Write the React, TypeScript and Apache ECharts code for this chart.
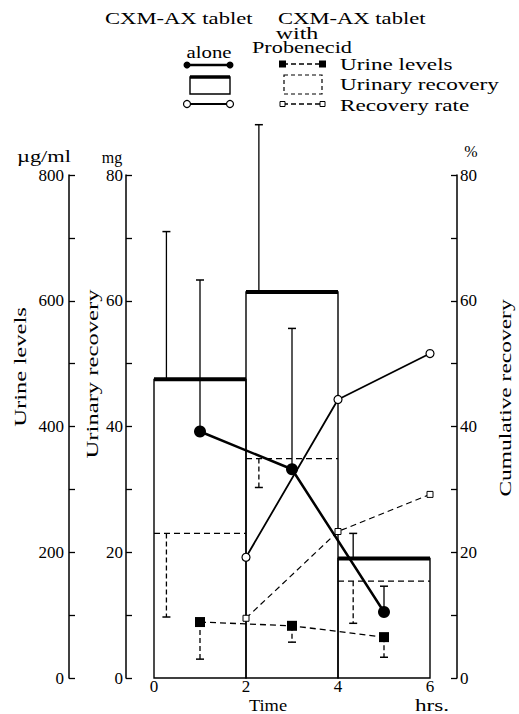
import React, { useEffect, useRef } from "react";
import * as echarts from "echarts";

// ---- data ----
const binStarts = [0, 2, 4];
const binEnds = [2, 4, 6];
const aloneRecovery = [47.5, 61.4, 19.0]; // mg, CXM-AX alone
const probRecovery = [23.0, 34.9, 15.4]; // mg, with Probenecid
const recoveryErrX = [0.27, 2.28, 4.33];
const aloneRecoveryErrTop = [71, 88, 23];
const probRecoveryErrBottom = [9.7, 30.3, 8.7];

const sampleTimes = [1, 3, 5];
const aloneUrine = [392, 332, 105]; // µg/ml
const aloneUrineErrTop = [633, 556, 146];
const probUrine = [89, 83, 65];
const probUrineErrBottom = [30, 57, 33];

const rateTimes = [2, 4, 6];
const aloneRate = [19.2, 44.3, 51.6]; // %
const probRate = [9.5, 23.3, 29.2];

const xTicks = [0, 2, 4, 6];

const FONT = "Liberation Serif";

export default function App() {
  const ref = useRef<HTMLDivElement>(null);
  useEffect(() => {
    if (!ref.current) return;
    const chart = echarts.init(ref.current, null, { renderer: "svg" });

    const binsAlone = binStarts.map((s, i) => [s, binEnds[i], aloneRecovery[i]]);
    const binsProb = binStarts.map((s, i) => [s, binEnds[i], probRecovery[i]]);
    const errAloneRec = recoveryErrX.map((x, i) => [x, aloneRecovery[i], aloneRecoveryErrTop[i]]);
    const errProbRec = recoveryErrX.map((x, i) => [x, probRecovery[i], probRecoveryErrBottom[i]]);
    const errAloneUr = sampleTimes.map((x, i) => [x, aloneUrine[i], aloneUrineErrTop[i]]);
    const errProbUr = sampleTimes.map((x, i) => [x, probUrine[i], probUrineErrBottom[i]]);

    const binRender = (dashed: boolean) => (params: any, api: any) => {
      const x0 = api.value(0), x1 = api.value(1), v = api.value(2);
      const p0 = api.coord([x0, 0]);
      const p1 = api.coord([x1, v]);
      if (dashed) {
        return {
          type: "line",
          shape: { x1: p0[0], y1: p1[1], x2: p1[0], y2: p1[1] },
          style: { stroke: "#000", lineWidth: 1.3, lineDash: [6, 4], fill: null },
        };
      }
      return {
        type: "group",
        children: [
          {
            type: "rect",
            shape: { x: p0[0], y: p1[1], width: p1[0] - p0[0], height: p0[1] - p1[1] },
            style: { fill: null, stroke: "#000", lineWidth: 1.4 },
          },
          {
            type: "line",
            shape: { x1: p0[0], y1: p1[1], x2: p1[0], y2: p1[1] },
            style: { stroke: "#000", lineWidth: 4 },
          },
        ],
      };
    };

    const errRender = (dashed: boolean) => (params: any, api: any) => {
      const x = api.value(0), a = api.value(1), b = api.value(2);
      const pa = api.coord([x, a]);
      const pb = api.coord([x, b]);
      const st: any = { stroke: "#000", lineWidth: 1.3 };
      if (dashed) st.lineDash = [5, 3];
      return {
        type: "group",
        children: [
          { type: "line", shape: { x1: pa[0], y1: pa[1], x2: pb[0], y2: pb[1] }, style: st },
          {
            type: "line",
            shape: { x1: pb[0] - 4, y1: pb[1], x2: pb[0] + 4, y2: pb[1] },
            style: { stroke: "#000", lineWidth: 1.5 },
          },
        ],
      };
    };

    const yBase = {
      type: "value",
      axisLine: { show: true, onZero: false, lineStyle: { color: "#000", width: 1.5 } },
      axisTick: { show: true, inside: true, length: 6, lineStyle: { color: "#000", width: 1.3 } },
      minorTick: { show: true, splitNumber: 2, length: 6, lineStyle: { color: "#000", width: 1.3 } },
      splitLine: { show: false },
      axisLabel: { color: "#000", fontFamily: FONT, fontSize: 17 },
    };

    const txt = (text: string, x: number, y: number, opts: any = {}) => ({
      type: "text",
      x,
      y,
      scaleX: opts.scaleX ?? 1,
      rotation: opts.rotation ?? 0,
      style: {
        text,
        fill: "#000",
        fontFamily: FONT,
        fontSize: opts.size ?? 16,
        fontWeight: "normal",
        align: opts.align ?? "left",
        verticalAlign: "middle",
      },
    });

    const solid = { stroke: "#000", lineWidth: 2.2 };
    const dash = { stroke: "#000", lineWidth: 1.3, lineDash: [5, 3] };

    const graphic: any[] = [
      // title block
      txt("CXM-AX tablet", 105, 18, { size: 17, scaleX: 1.33 }),
      txt("CXM-AX tablet", 278, 18, { size: 17, scaleX: 1.33 }),
      txt("with", 297, 34, { align: "center", scaleX: 1.5 }),
      txt("alone", 209, 52, { align: "center", scaleX: 1.3 }),
      txt("Probenecid", 302, 48, { align: "center", scaleX: 1.39 }),
      // alone legend symbols
      { type: "line", shape: { x1: 187, y1: 65, x2: 230, y2: 65 }, style: { stroke: "#000", lineWidth: 2.5 } },
      { type: "circle", shape: { cx: 187, cy: 65, r: 3.5 }, style: { fill: "#000" } },
      { type: "circle", shape: { cx: 230, cy: 65, r: 3.5 }, style: { fill: "#000" } },
      { type: "rect", shape: { x: 190, y: 77, width: 40, height: 17 }, style: { fill: null, stroke: "#000", lineWidth: 1.4 } },
      { type: "line", shape: { x1: 190, y1: 77, x2: 230, y2: 77 }, style: { stroke: "#000", lineWidth: 3.5 } },
      { type: "line", shape: { x1: 187, y1: 104, x2: 230, y2: 104 }, style: solid },
      { type: "circle", shape: { cx: 187, cy: 104, r: 3.5 }, style: { fill: "#fff", stroke: "#000", lineWidth: 1.2 } },
      { type: "circle", shape: { cx: 230, cy: 104, r: 3.5 }, style: { fill: "#fff", stroke: "#000", lineWidth: 1.2 } },
      // probenecid legend symbols
      { type: "line", shape: { x1: 283, y1: 64, x2: 322, y2: 64 }, style: dash },
      { type: "rect", shape: { x: 279, y: 60.5, width: 7, height: 7 }, style: { fill: "#000" } },
      { type: "rect", shape: { x: 319, y: 60.5, width: 7, height: 7 }, style: { fill: "#000" } },
      { type: "rect", shape: { x: 284, y: 75, width: 38, height: 19 }, style: { fill: null, stroke: "#000", lineWidth: 1.2, lineDash: [4, 3] } },
      { type: "line", shape: { x1: 283, y1: 104, x2: 322, y2: 104 }, style: dash },
      { type: "rect", shape: { x: 280, y: 101.5, width: 5, height: 5 }, style: { fill: "#fff", stroke: "#000", lineWidth: 1 } },
      { type: "rect", shape: { x: 320, y: 101.5, width: 5, height: 5 }, style: { fill: "#fff", stroke: "#000", lineWidth: 1 } },
      txt("Urine levels", 340, 64, { scaleX: 1.45 }),
      txt("Urinary recovery", 340, 84, { scaleX: 1.45 }),
      txt("Recovery rate", 340, 105, { scaleX: 1.45 }),
      // axis names
      txt("µg/ml", 44, 157, { align: "center", scaleX: 1.4 }),
      txt("mg", 112, 157, { align: "center" }),
      txt("%", 471, 151, { align: "center" }),
      txt("Urine levels", 20, 367, { align: "center", size: 17, rotation: Math.PI / 2, scaleX: 1.45 }),
      txt("Urinary recovery", 92, 374, { align: "center", size: 17, rotation: Math.PI / 2, scaleX: 1.45 }),
      txt("Cumulative recovery", 505, 398, { align: "center", size: 17, rotation: Math.PI / 2, scaleX: 1.38 }),
      txt("Time", 268, 706, { align: "center", size: 16, scaleX: 1.15 }),
      txt("hrs.", 432, 705, { align: "center", size: 16, scaleX: 1.45 }),
    ];

    chart.setOption({
      animation: false,
      backgroundColor: "#fff",
      grid: { left: 154, right: 89, top: 175, bottom: 36, containLabel: false },
      xAxis: {
        type: "value",
        min: 0,
        max: 6,
        interval: 2,
        axisLine: { show: false },
        axisTick: { show: false },
        splitLine: { show: false },
        axisLabel: {
          color: "#000",
          fontFamily: FONT,
          fontSize: 17,
          margin: 0,
          customValues: xTicks,
        },
      },
      yAxis: [
        { ...yBase, min: 0, max: 800, interval: 200, position: "left", offset: 85, axisLabel: { ...yBase.axisLabel, margin: 5 } },
        { ...yBase, min: 0, max: 80, interval: 20, position: "left", offset: 28, axisLabel: { ...yBase.axisLabel, margin: 3 } },
        { ...yBase, min: 0, max: 80, interval: 20, position: "right", offset: 27, axisLabel: { ...yBase.axisLabel, margin: 3 } },
      ],
      graphic,
      series: [
        { type: "custom", name: "Urinary recovery (alone)", xAxisIndex: 0, yAxisIndex: 1, renderItem: binRender(false), data: binsAlone, encode: { x: [0, 1], y: 2 }, z: 1 },
        { type: "custom", name: "Urinary recovery (Probenecid)", xAxisIndex: 0, yAxisIndex: 1, renderItem: binRender(true), data: binsProb, encode: { x: [0, 1], y: 2 }, z: 1 },
        { type: "custom", name: "err rec alone", yAxisIndex: 1, renderItem: errRender(false), data: errAloneRec, encode: { x: 0, y: [1, 2] }, z: 2 },
        { type: "custom", name: "err rec prob", yAxisIndex: 1, renderItem: errRender(true), data: errProbRec, encode: { x: 0, y: [1, 2] }, z: 2 },
        { type: "custom", name: "err ur alone", yAxisIndex: 0, renderItem: errRender(false), data: errAloneUr, encode: { x: 0, y: [1, 2] }, z: 2 },
        { type: "custom", name: "err ur prob", yAxisIndex: 0, renderItem: errRender(true), data: errProbUr, encode: { x: 0, y: [1, 2] }, z: 2 },
        {
          type: "line",
          name: "Urine levels (alone)",
          yAxisIndex: 0,
          data: sampleTimes.map((t, i) => [t, aloneUrine[i]]),
          symbol: "circle",
          symbolSize: 12,
          lineStyle: { color: "#000", width: 2.5 },
          itemStyle: { color: "#000" },
          z: 5,
        },
        {
          type: "line",
          name: "Urine levels (Probenecid)",
          yAxisIndex: 0,
          data: sampleTimes.map((t, i) => [t, probUrine[i]]),
          symbol: "rect",
          symbolSize: 10,
          lineStyle: { color: "#000", width: 1.3, type: [6, 4] },
          itemStyle: { color: "#000" },
          z: 5,
        },
        {
          type: "line",
          name: "Recovery rate (alone)",
          yAxisIndex: 2,
          data: rateTimes.map((t, i) => [t, aloneRate[i]]),
          symbol: "circle",
          symbolSize: 8,
          lineStyle: { color: "#000", width: 1.8 },
          itemStyle: { color: "#fff", borderColor: "#000", borderWidth: 1.2 },
          z: 5,
        },
        {
          type: "line",
          name: "Recovery rate (Probenecid)",
          yAxisIndex: 2,
          data: rateTimes.map((t, i) => [t, probRate[i]]),
          symbol: "rect",
          symbolSize: 6,
          lineStyle: { color: "#000", width: 1.2, type: [6, 4] },
          itemStyle: { color: "#fff", borderColor: "#000", borderWidth: 1 },
          z: 5,
        },
      ],
    });
    return () => chart.dispose();
  }, []);
  return <div ref={ref} style={{ position: "fixed", left: 0, top: 0, width: 519, height: 714 }} />;
}
